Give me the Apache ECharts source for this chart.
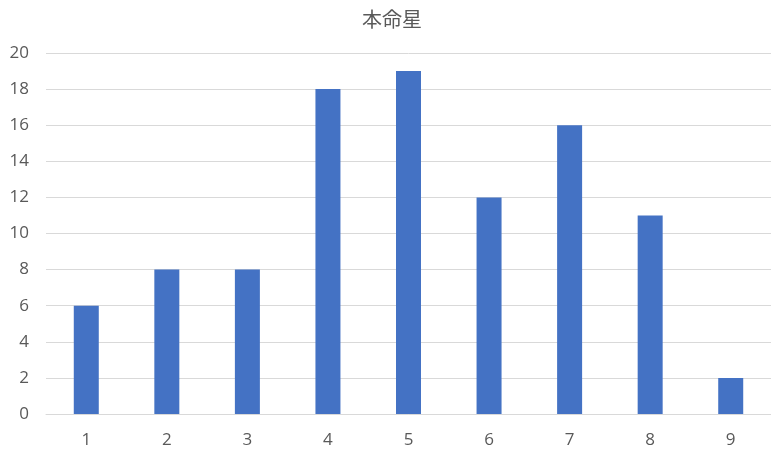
<!DOCTYPE html>
<html><head><meta charset="utf-8">
<script src="https://cdn.jsdelivr.net/npm/echarts@6/dist/echarts.min.js"></script>
<style>html,body{margin:0;padding:0;background:#fff}#c{width:771px;height:455px}</style>
</head><body><div id="c"></div>
<script>
const titleText = '本命星';
const categories = ['1','2','3','4','5','6','7','8','9'];
const values = [6, 8, 8, 18, 19, 12, 16, 11, 2];
const yTicks = [0, 2, 4, 6, 8, 10, 12, 14, 16, 18, 20];

const chart = echarts.init(document.getElementById('c'));
chart.setOption({
  animation: false,
  title: {
    text: titleText, left: 357, top: 4,
    textStyle: { color: '#595959', fontSize: 20, fontWeight: 'normal', fontFamily: 'Noto Sans CJK JP' }
  },
  grid: { left: 46, right: -2, top: 53, bottom: 41, containLabel: false },
  xAxis: {
    type: 'category', data: categories,
    axisLine: { lineStyle: { color: '#d9d9d9' } },
    axisTick: { show: false },
    axisLabel: { color: '#595959', fontSize: 17, margin: 18, fontFamily: 'Open Sans' }
  },
  yAxis: {
    type: 'value', min: yTicks[0], max: yTicks[yTicks.length - 1], interval: 2,
    axisLine: { show: false }, axisTick: { show: false },
    splitLine: { lineStyle: { color: '#d9d9d9' } },
    axisLabel: { color: '#595959', fontSize: 17, margin: 17, fontFamily: 'Open Sans' }
  },
  series: [{
    type: 'bar', data: values, barWidth: 25,
    itemStyle: { color: '#4472C4' }
  }]
});
</script></body></html>
